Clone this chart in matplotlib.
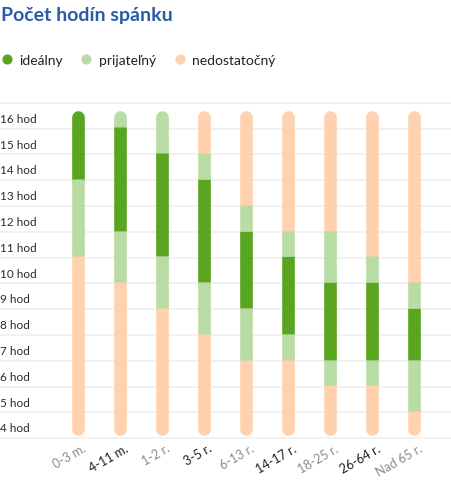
import matplotlib
matplotlib.use('Agg')
import matplotlib.pyplot as plt
from matplotlib.lines import Line2D
import matplotlib.transforms as mtransforms

plt.rcParams['font.family'] = ['Lato', 'DejaVu Sans']

# ---------------- data ----------------
categories = ['0-3 m.', '4-11 m.', '1-2 r.', '3-5 r.', '6-13 r.',
              '14-17 r.', '18-25 r.', '26-64 r.', 'Nad 65 r.']
ideal_min = [14, 12, 11, 10, 9, 8, 7, 7, 7]
ideal_max = [17, 15, 14, 13, 11, 10, 9, 9, 8]
acceptable_min = [11, 10, 9, 8, 7, 7, 6, 6, 5]
acceptable_max = [19, 18, 16, 14, 12, 11, 11, 10, 9]
hours = list(range(4, 17))
hour_labels = [f'{h} hod' for h in hours]
legend_labels = ['ideálny', 'prijateľný', 'nedostatočný']
title = 'Počet hodín spánku'

# ---------------- style ----------------
C_IDEAL = '#5aa51f'
C_ACC = '#b9dca5'
C_LOW = '#ffd1ae'
C_TITLE = '#2a5ba8'
C_GRID = '#eeeeee'
BAR_MIN, BAR_MAX = 3.55, 16.15

W, H, DPI = 451, 481, 100
fig = plt.figure(figsize=(W / DPI, H / DPI), dpi=DPI)
ax_bottom_px, ax_top_px = 441, 100
ax = fig.add_axes([0, (H - ax_bottom_px) / H, 1, (ax_bottom_px - ax_top_px) / H])
ylo, yhi = 3.384, 16.601
ax.set_xlim(-1.8545, 8.868)
ax.set_ylim(ylo, yhi)
for s in ax.spines.values():
    s.set_visible(False)
ax.set_yticks([])
ax.tick_params(axis='x', length=0, pad=2)

for k in range(3, 17):
    ax.axhline(k + 0.45, color=C_GRID, lw=1.1, zorder=0)

# y labels
trans = mtransforms.blended_transform_factory(ax.transAxes, ax.transData)
for h, lab in zip(hours, hour_labels):
    ax.text(0.0, h - 0.15, lab, transform=trans, ha='left', va='center',
            fontsize=8.5, color='#2b2b2b')

# bars
lw_pt = 9.1
px_per_unit = (ax_bottom_px - ax_top_px) / (yhi - ylo)
r = (lw_pt / 72 * DPI / 2) / px_per_unit

kinds_col = [C_LOW, C_ACC, C_IDEAL, C_ACC, C_LOW]
for i in range(len(categories)):
    edges = [BAR_MIN, acceptable_min[i] - 0.5, ideal_min[i] - 0.5,
             ideal_max[i] + 0.5, acceptable_max[i] + 0.5, BAR_MAX]
    segs = []
    for j in range(5):
        lo = min(max(edges[j], BAR_MIN), BAR_MAX)
        hi = min(max(edges[j + 1], BAR_MIN), BAR_MAX)
        if hi > lo:
            segs.append((lo, hi, kinds_col[j]))
    n = len(segs)
    lo, hi, c = segs[0]
    ax.plot([i, i], [lo + r, hi if n > 1 else hi - r], color=c, lw=lw_pt,
            solid_capstyle='round', zorder=2)
    if n > 1:
        lo, hi, c = segs[-1]
        ax.plot([i, i], [lo, hi - r], color=c, lw=lw_pt,
                solid_capstyle='round', zorder=2)
    for lo, hi, c in segs[1:-1]:
        ax.plot([i, i], [lo, hi], color=c, lw=lw_pt,
                solid_capstyle='butt', zorder=3)

ax.set_xticks(range(len(categories)))
ax.set_xticklabels(categories, rotation=30, ha='right', rotation_mode='anchor',
                   fontsize=9)
offset = mtransforms.ScaledTranslation(4 / DPI, 1 / DPI, fig.dpi_scale_trans)
for j, t in enumerate(ax.get_xticklabels()):
    t.set_color('#1f1f1f' if j % 2 == 1 else '#8a8a8a')
    t.set_transform(t.get_transform() + offset)

# title
fig.text(1 / W, 1 - 16 / H, title, fontsize=14, fontweight='bold',
         color=C_TITLE, ha='left', va='center')

# legend
handles = [Line2D([], [], marker='o', ls='', markersize=6.3,
                  markerfacecolor=c, markeredgecolor=c)
           for c in (C_IDEAL, C_ACC, C_LOW)]
leg = fig.legend(handles, legend_labels, loc='center left',
                 bbox_to_anchor=(1 / W, 1 - 61 / H), ncol=3, frameon=False,
                 fontsize=10, handlelength=0.8, handletextpad=0.5,
                 columnspacing=1.3, borderpad=0, borderaxespad=0)
for t in leg.get_texts():
    t.set_color('#222222')

fig.savefig('out.png', dpi=DPI)
